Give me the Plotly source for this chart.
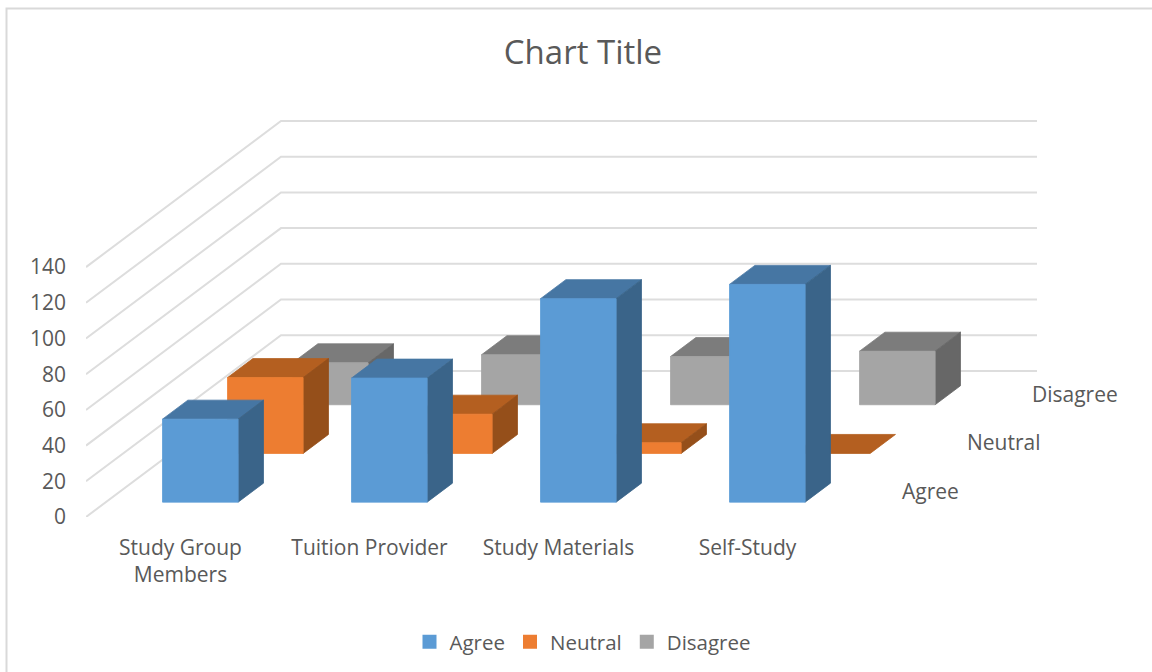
import plotly.graph_objects as go

categories = ["Study Group<br>Members", "Tuition Provider", "Study Materials", "Self-Study"]
series_names = ["Agree", "Neutral", "Disagree"]
agree = [46.5, 69.5, 114, 122]
neutral = [42.5, 22, 6, 0]
disagree = [23.5, 28, 27, 30]
y_ticks = [0, 20, 40, 60, 80, 100, 120, 140]

front = ["#5B9BD5", "#ED7D31", "#A5A5A5"]
top = ["#4676A3", "#B45F20", "#7C7C7C"]
side = ["#3A6489", "#954F1A", "#676767"]
TEXT = "#595959"
GRID = "#DDDDDD"

# Chart frame, in pixels of the 1152x672 page
L, R, T, B = 86, 112, 100, 155
W, H = 1152, 672
PX_X = 189.0            # pixels per category
PX_Y = 35.7 / 20        # pixels per value unit
DEPTH_X = 65.0 / PX_X   # oblique shift per series row, category units
DEPTH_Y = 48.7 / PX_Y   # oblique shift per series row, value units
BAR_W = 0.40
BAR_D = 0.39


def proj(x, v, d):
    return x + d * DEPTH_X, v + d * DEPTH_Y


def poly(points, color):
    xs, ys = zip(*[proj(*p) for p in points])
    return go.Scatter(x=list(xs) + [xs[0]], y=list(ys) + [ys[0]], mode="lines",
                      fill="toself", fillcolor=color, line=dict(width=0.8, color=color),
                      hoverinfo="skip", showlegend=False)


fig = go.Figure()

# wall gridlines
n_cat = len(categories)
n_rows = len(series_names)
gx, gy = [], []
for t in y_ticks:
    for p in [(0, t, 0), (0, t, n_rows), (n_cat, t, n_rows)]:
        px, py = proj(*p)
        gx.append(px)
        gy.append(py)
    gx.append(None)
    gy.append(None)
fig.add_trace(go.Scatter(x=gx, y=gy, mode="lines", line=dict(color=GRID, width=2),
                         hoverinfo="skip", showlegend=False))

# boxes, back row first
rows = [agree, neutral, disagree]
for r in reversed(range(n_rows)):
    d0 = r + (1 - BAR_D) / 2
    d1 = d0 + BAR_D
    for c, v in enumerate(rows[r]):
        x0 = c + (1 - BAR_W) / 2
        x1 = x0 + BAR_W
        fig.add_trace(poly([(x0, v, d0), (x1, v, d0), (x1, v, d1), (x0, v, d1)], top[r]))
        if v > 0:
            fig.add_trace(poly([(x1, 0, d0), (x1, 0, d1), (x1, v, d1), (x1, v, d0)], side[r]))
            fig.add_trace(poly([(x0, 0, d0), (x1, 0, d0), (x1, v, d0), (x0, v, d0)], front[r]))

# legend entries
for name, color in zip(series_names, front):
    fig.add_trace(go.Scatter(x=[None], y=[None], mode="markers", name=name,
                             marker=dict(symbol="square", size=14, color=color)))

# depth axis labels
annotations = []
for r, name in enumerate(series_names):
    ax, ay = proj(n_cat, 0, r + 0.5)
    annotations.append(dict(x=ax + 25 / PX_X, y=ay + 1.5 / PX_Y, text=name, showarrow=False,
                            xref="x", yref="y", xanchor="left", yanchor="middle",
                            font=dict(size=21, color=TEXT, family="Open Sans")))

fig.update_layout(
    width=W, height=H, autosize=False,
    margin=dict(l=L, r=R, t=T, b=B),
    paper_bgcolor="white", plot_bgcolor="rgba(0,0,0,0)",
    font=dict(family="Open Sans", size=21, color=TEXT),
    title=dict(text="Chart Title", x=583 / W, xanchor="center", xref="container",
               y=1 - 52 / H, yanchor="middle", yref="container",
               font=dict(size=33, color=TEXT, family="Open Sans")),
    xaxis=dict(range=[0, (W - L - R) / PX_X], tickmode="array",
               tickvals=[i + 0.5 for i in range(n_cat)], ticktext=categories,
               showgrid=False, zeroline=False, showline=False, ticks="", ticklabelstandoff=16,
               fixedrange=True),
    yaxis=dict(range=[0, (H - T - B) / PX_Y], tickmode="array",
               tickvals=y_ticks, ticktext=[str(t) for t in y_ticks],
               showgrid=False, zeroline=False, showline=False, ticks="", ticklabelstandoff=19,
               fixedrange=True),
    legend=dict(orientation="h", x=583 / W, xref="container", xanchor="center",
                y=1 - 642 / H, yref="container", yanchor="middle",
                font=dict(size=20.5, color=TEXT), bgcolor="rgba(0,0,0,0)"),
    annotations=annotations,
    shapes=[dict(type="rect", xref="paper", yref="paper",
                 x0=(6.5 - L) / (W - L - R), x1=(W + 10 - L) / (W - L - R),
                 y0=(H - B - H - 10) / (H - T - B), y1=(H - B - 8.5) / (H - T - B),
                 line=dict(color="#D9D9D9", width=2), layer="below")],
)

fig.write_html("out.html", config=dict(displayModeBar=False),
               post_script="document.body.style.margin='0';")
